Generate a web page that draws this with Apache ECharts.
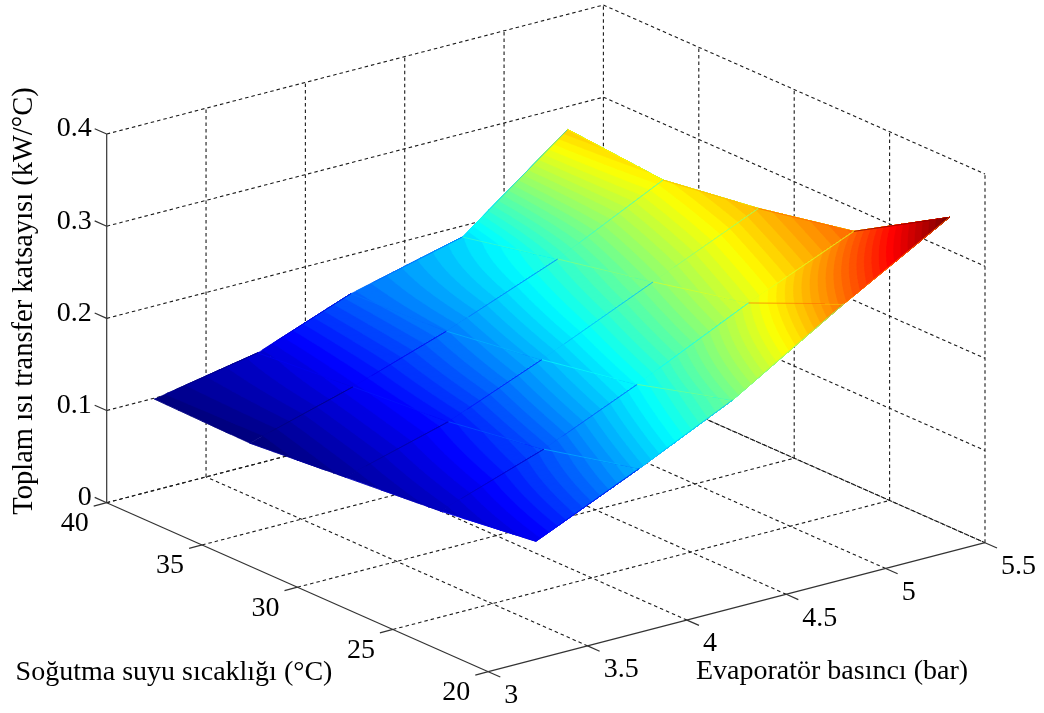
<!DOCTYPE html>
<html>
<head>
<meta charset="utf-8">
<style>html,body{margin:0;padding:0;background:#fff}#c{width:1044px;height:713px}</style>
<script src="https://cdn.jsdelivr.net/npm/echarts@6/dist/echarts.min.js"></script>
</head>
<body>
<div id="c"></div>
<script>
// ---- data ----
const pressure = [3.24, 3.76, 4.23, 4.79, 5.32];      // bar
const waterTemp = [40, 35, 30, 25, 20];               // deg C
const uRow324 = [0.099, 0.097, 0.106, 0.115, 0.128];
const uRow376 = [0.120, 0.129, 0.137, 0.153, 0.178];
const uRow423 = [0.158, 0.163, 0.178, 0.197, 0.226];
const uRow479 = [0.188, 0.210, 0.231, 0.254, 0.299];
const uRow532 = [0.275, 0.266, 0.281, 0.302, 0.363];
const uValues = [uRow324, uRow376, uRow423, uRow479, uRow532];
const xTicks = [3, 3.5, 4, 4.5, 5, 5.5];
const yTicks = [20, 25, 30, 35, 40];
const zTicks = [0, 0.1, 0.2, 0.3, 0.4];
const xTickLabels = ['3', '3.5', '4', '4.5', '5', '5.5'];
const yTickLabels = ['20', '25', '30', '35', '40'];
const zTickLabels = ['0', '0.1', '0.2', '0.3', '0.4'];
const xTitle = 'Evaporatör basıncı (bar)';
const yTitle = 'Soğutma suyu sıcaklığı (°C)';
const zTitle = 'Toplam ısı transfer katsayısı (kW/°C)';

// ---- 3D view: orthographic projection of the box onto the page ----
const X0 = 3, X1 = 5.5, Y0 = 20, Y1 = 40;
const ORIGIN = [488.3, 671.7], XVEC = [496.7, -129], YVEC = [-381.6, -169], ZSCALE = 921.7;
function project(x, y, z) {
  const fx = (x - X0) / (X1 - X0), fy = (y - Y0) / (Y1 - Y0);
  return [ORIGIN[0] + fx * XVEC[0] + fy * YVEC[0],
          ORIGIN[1] + fx * XVEC[1] + fy * YVEC[1] - z * ZSCALE];
}
function jet(k) {
  const t = k / 63, c = v => Math.max(0, Math.min(1, v));
  const r = c(Math.min(4 * t - 1.5, -4 * t + 4.5));
  const g = c(Math.min(4 * t - 0.5, -4 * t + 3.5));
  const b = c(Math.min(4 * t + 0.5, -4 * t + 2.5));
  return 'rgb(' + Math.round(r * 255) + ',' + Math.round(g * 255) + ',' + Math.round(b * 255) + ')';
}
const allU = uValues.flat();
const uMin = Math.min.apply(null, allU), uMax = Math.max.apply(null, allU);
const LEVELS = 64, SUB = 8, levelH = (uMax - uMin) / LEVELS;
const levelOf = z => Math.max(0, Math.min(LEVELS - 1, Math.floor((z - uMin) / levelH)));

// part of a triangle where the value is at least lo
function clipAbove(pts, lo) {
  const out = [];
  for (let i = 0; i < pts.length; i++) {
    const a = pts[i], b = pts[(i + 1) % pts.length];
    const ka = a[2] >= lo, kb = b[2] >= lo;
    if (ka) out.push(a);
    if (ka !== kb) {
      const t = (lo - a[2]) / (b[2] - a[2]);
      out.push([a[0] + t * (b[0] - a[0]), a[1] + t * (b[1] - a[1]), lo]);
    }
  }
  return out;
}
// each mesh cell is painted level by level, lowest first, one compound path per level
function renderCell(params, api) {
  const i = api.value(0), j = api.value(1);
  const node = (u, v) => {
    const x = pressure[i] + u * (pressure[i + 1] - pressure[i]);
    const y = waterTemp[j] + v * (waterTemp[j + 1] - waterTemp[j]);
    const z = (1 - u) * (1 - v) * uValues[i][j] + u * (1 - v) * uValues[i + 1][j] +
              (1 - u) * v * uValues[i][j + 1] + u * v * uValues[i + 1][j + 1];
    return [x, y, z];
  };
  const tris = [];
  for (let a = 0; a < SUB; a++) for (let b = 0; b < SUB; b++) {
    const p00 = node(a / SUB, b / SUB), p10 = node((a + 1) / SUB, b / SUB),
          p01 = node(a / SUB, (b + 1) / SUB), p11 = node((a + 1) / SUB, (b + 1) / SUB);
    tris.push([p00, p10, p11], [p00, p11, p01]);
  }
  const corners = [uValues[i][j], uValues[i + 1][j], uValues[i][j + 1], uValues[i + 1][j + 1]];
  const kMin = levelOf(Math.min.apply(null, corners)), kMax = levelOf(Math.max.apply(null, corners));
  const children = [];
  for (let k = kMin; k <= kMax; k++) {
    const lo = k === kMin ? -1 : uMin + k * levelH;
    let d = '';
    tris.forEach(t => {
      const poly = clipAbove(t, lo);
      if (poly.length < 3) return;
      poly.forEach((p, n) => {
        const q = api.coord(project(p[0], p[1], p[2]));
        d += (n ? 'L' : 'M') + q[0].toFixed(2) + ' ' + q[1].toFixed(2);
      });
      d += 'Z';
    });
    if (!d) continue;
    const col = jet(k);
    children.push({ type: 'path', shape: { pathData: d }, style: { fill: col, stroke: col, lineWidth: 0.5 } });
  }
  return { type: 'group', children: children };
}
// thin colour seams along the mesh edges
function renderSeam(params, api) {
  const i = api.value(0), j = api.value(1), dir = api.value(2);
  const i2 = dir === 0 ? i - 1 : i, j2 = dir === 0 ? j : j + 1;
  const a = project(pressure[i], waterTemp[j], uValues[i][j]);
  const b = project(pressure[i2], waterTemp[j2], uValues[i2][j2]);
  const e = [a[0] + 0.8 * (b[0] - a[0]), a[1] + 0.8 * (b[1] - a[1])];
  const p = api.coord(a), q = api.coord(e);
  return { type: 'line', shape: { x1: p[0], y1: p[1], x2: q[0], y2: q[1] },
    style: { stroke: jet(levelOf(uValues[i2][j2])), lineWidth: 0.9, opacity: 0.8 } };
}
// box: kind 0 dashed grid, 1 solid axis
function renderLine(params, api) {
  const a = project(api.value(0), api.value(1), api.value(2));
  const b = project(api.value(3), api.value(4), api.value(5));
  const solid = api.value(6) === 1, ox = api.value(7), oy = api.value(8);
  const p = api.coord(a), q = api.coord([b[0] + ox, b[1] + oy]);
  return { type: 'line', shape: { x1: p[0], y1: p[1], x2: q[0], y2: q[1] },
    style: solid ? { stroke: '#333', lineWidth: 1.2 } : { stroke: '#1a1a1a', lineWidth: 1.1, lineDash: [3.5, 3] } };
}
const gridLines = [];
const addLine = (a, b, solid, ox, oy) => gridLines.push(a.concat(b, [solid ? 1 : 0, ox || 0, oy || 0]));
const zTop = zTicks[zTicks.length - 1];
xTicks.slice(1).forEach(x => addLine([x, Y0, 0], [x, Y1, 0], false));
yTicks.slice(1).forEach(y => addLine([X0, y, 0], [X1, y, 0], false));
xTicks.slice(1).forEach(x => addLine([x, Y1, 0], [x, Y1, zTop], false));
yTicks.slice(0, -1).forEach(y => addLine([X1, y, 0], [X1, y, zTop], false));
zTicks.forEach(z => { addLine([X0, Y1, z], [X1, Y1, z], false); addLine([X1, Y1, z], [X1, Y0, z], false); });
addLine([X0, Y0, 0], [X1, Y0, 0], true);
addLine([X0, Y0, 0], [X0, Y1, 0], true);
addLine([X0, Y1, 0], [X0, Y1, zTop], true);
xTicks.forEach(x => addLine([x, Y0, 0], [x, Y0, 0], true, 12, 5.3));
yTicks.forEach(y => addLine([X0, y, 0], [X0, y, 0], true, -13, 3.4));
zTicks.forEach(z => addLine([X0, Y1, z], [X0, Y1, z], true, -12, -5.3));

const cells = [], seams = [];
for (let i = 0; i < pressure.length - 1; i++) for (let j = 0; j < waterTemp.length - 1; j++) cells.push([i, j]);
for (let i = 1; i < pressure.length; i++) for (let j = 0; j < waterTemp.length; j++) seams.push([i, j, 0]);
for (let i = 0; i < pressure.length; i++) for (let j = 0; j < waterTemp.length - 1; j++) seams.push([i, j, 1]);

const FONT = '"Liberation Serif","Times New Roman",serif';
const TICK_FS = 28, TITLE_FS = 28;
const textRows = [];
xTicks.forEach((x, k) => { const p = project(x, Y0, 0); textRows.push([xTickLabels[k], p[0] + 16, p[1] + 24, 'left', TICK_FS, 0]); });
yTicks.forEach((y, k) => { const p = project(X0, y, 0); textRows.push([yTickLabels[k], p[0] - 18, p[1] + 21, 'right', TICK_FS, 0]); });
zTicks.forEach((z, k) => { const p = project(X0, Y1, z); textRows.push([zTickLabels[k], p[0] - 15, p[1] - 5, 'right', TICK_FS, 0]); });
textRows.push([xTitle, 832, 672, 'center', TITLE_FS, 0]);
textRows.push([yTitle, 174, 673, 'center', TITLE_FS, 0]);
textRows.push([zTitle, 25, 301, 'center', 28.5, Math.PI / 2]);

function renderText(params, api) {
  const r = textRows[params.dataIndex];
  const p = api.coord([r[1], r[2]]);
  return { type: 'text', x: p[0], y: p[1], rotation: r[5],
    style: { text: r[0], x: 0, y: 0, fill: '#000', font: r[4] + 'px ' + FONT, align: r[3], verticalAlign: 'middle' } };
}

const chart = echarts.init(document.getElementById('c'));
const common = { type: 'custom', coordinateSystem: 'cartesian2d', silent: true, animation: false, clip: false };
chart.setOption({
  backgroundColor: '#fff',
  animation: false,
  grid: { left: 0, right: 0, top: 0, bottom: 0 },
  xAxis: { type: 'value', min: 0, max: 1044, show: false },
  yAxis: { type: 'value', min: 0, max: 713, inverse: true, show: false },
  series: [
    Object.assign({}, common, { name: 'box', renderItem: renderLine, data: gridLines, z: 1 }),
    Object.assign({}, common, { name: 'surface', renderItem: renderCell, data: cells, z: 2 }),
    Object.assign({}, common, { name: 'seams', renderItem: renderSeam, data: seams, z: 3 }),
    Object.assign({}, common, { name: 'text', renderItem: renderText, data: textRows.map((r, i) => [i]), z: 4 })
  ]
});
</script>
</body>
</html>
